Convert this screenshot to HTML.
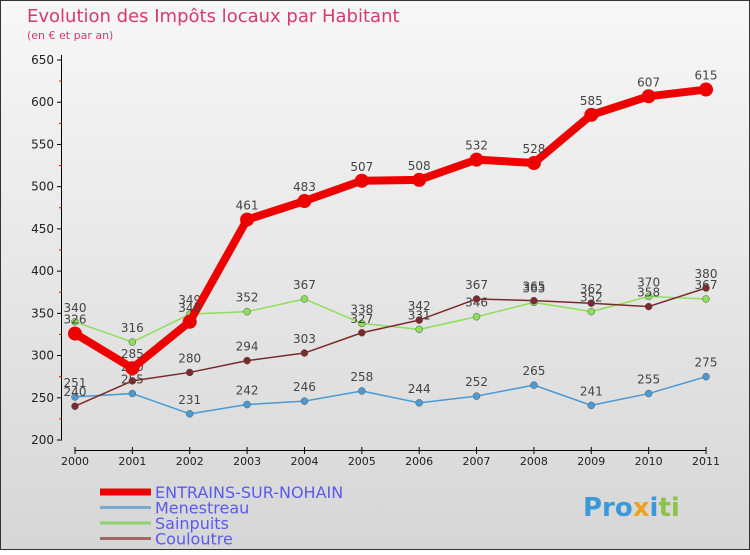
<!DOCTYPE html>
<html><head><meta charset="utf-8"><style>
body{margin:0;width:750px;height:550px;overflow:hidden;font-family:"Liberation Sans",sans-serif}
svg text{font-family:"DejaVu Sans","Liberation Sans",sans-serif}
</style></head><body>
<svg id="c" width="750" height="550">
<defs><linearGradient id="bg" x1="0" y1="0" x2="0" y2="1"><stop offset="0" stop-color="#f7f7f7"/><stop offset="1" stop-color="#d6d6d6"/></linearGradient></defs>
<rect x="0.5" y="0.5" width="749" height="549" fill="url(#bg)" stroke="#333"/>
<text x="27" y="22" font-size="18" fill="#d63a6a">Evolution des Impôts locaux par Habitant</text>
<text x="27" y="39" font-size="11" fill="#d63a6a">(en € et par an)</text>
<g id="axes"></g><g id="series"></g><g id="legend"></g>
<text x="583" y="516" font-size="26" font-weight="bold" fill="#3a9ad9">Pro<tspan fill="#f0a020">x</tspan><tspan fill="#3a9ad9">i</tspan><tspan fill="#8bc34a">ti</tspan></text>
</svg>
<script>
const years=[2000,2001,2002,2003,2004,2005,2006,2007,2008,2009,2010,2011];
const yTicks=[200,250,300,350,400,450,500,550,600,650];
const entrains=[326,285,340,461,483,507,508,532,528,585,607,615];
const menestreau=[251,255,231,242,246,258,244,252,265,241,255,275];
const sainpuits=[340,316,349,352,367,338,331,346,363,352,370,367];
const couloutre=[240,270,280,294,303,327,342,367,365,362,358,380];
const seriesNames=["ENTRAINS-SUR-NOHAIN","Menestreau","Sainpuits","Couloutre"];
const NS="http://www.w3.org/2000/svg";
const X=i=>75+i*(706-75)/(years.length-1);
const Y=v=>440-(v-200)*(380/450);
function mk(t,a,p){const e=document.createElementNS(NS,t);for(const k in a)e.setAttribute(k,a[k]);p.appendChild(e);return e;}
const ax=document.getElementById('axes');
const yl=mk('line',{x1:61.5,y1:55,x2:61.5,y2:440,stroke:'#000'},ax);


const xl=mk('line',{x1:75,y1:450.5,x2:706,y2:450.5,stroke:'#000'},ax);


yTicks.forEach((v,i)=>{
  mk('line',{x1:57,y1:Y(v),x2:62,y2:Y(v),stroke:'#000'},ax);
  if(i<yTicks.length-1) mk('line',{x1:59,y1:Y(v+25),x2:62,y2:Y(v+25),stroke:'#e00'},ax);
  const t=mk('text',{x:54,y:Y(v)+4,'font-size':12,'text-anchor':'end',fill:'#222'},ax);t.textContent=v;
  
  
});
years.forEach((yr,i)=>{
  mk('line',{x1:X(i),y1:447,x2:X(i),y2:454,stroke:'#000'},ax);
  const t=mk('text',{x:X(i),y:465,'font-size':11,'text-anchor':'middle',fill:'#222'},ax);t.textContent=yr;
  
  
});
const sg=document.getElementById('series');
const defs=[[menestreau,'#4a9ad4',1.5,3.5,'menestreau'],[sainpuits,'#8ede5a',1.5,3.5,'sainpuits'],[couloutre,'#7a2a2a',1.5,3.5,'couloutre'],[entrains,'#ee0000',8,7,'entrains']];
defs.forEach(([d,c,w,r,n])=>{
  const p=mk('polyline',{points:d.map((v,i)=>X(i)+','+Y(v)).join(' '),fill:'none',stroke:c,'stroke-width':w,'stroke-linejoin':'round'},sg);
  
  
  d.forEach((v,i)=>{
    const m=mk('circle',{cx:X(i),cy:Y(v),r:r,fill:c,stroke:n==='entrains'?'none':'#555','stroke-width':0.5},sg);
    
    
    const t=mk('text',{x:X(i),y:Y(v)-10,'font-size':12,'text-anchor':'middle',fill:'#444'},sg);t.textContent=v;
    
    
  });
});
const lg=document.getElementById('legend');
const lc=['#ee0000','#7aaad0','#90d070','#a06868'],lw=[7,3,3,3];
seriesNames.forEach((s,i)=>{
  const y=492+i*15.5;
  const l=mk('line',{x1:100,y1:y,x2:151,y2:y,stroke:lc[i],'stroke-width':lw[i]},lg);
  
  
  const t=mk('text',{x:155,y:y+6,'font-size':16,fill:'#5a5aee'},lg);t.textContent=s;
  
  
});
</script>
</body></html>
